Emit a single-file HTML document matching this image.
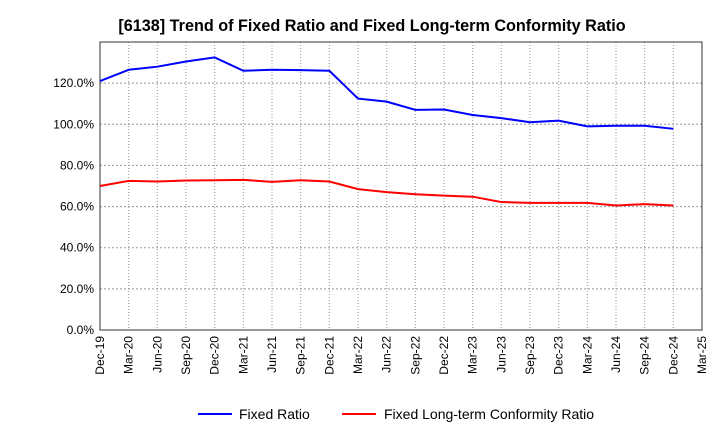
<!DOCTYPE html>
<html><head><meta charset="utf-8"><style>
body{margin:0;background:#fff;font-family:"Liberation Sans",sans-serif;}
</style></head><body>
<svg id="c" width="720" height="440" xmlns="http://www.w3.org/2000/svg">
<text x="372" y="31" text-anchor="middle" font-size="16.2" font-weight="bold">[6138]  Trend of Fixed Ratio and Fixed Long-term Conformity Ratio</text>
<g id="grid"></g><g id="axes"></g><g id="series"></g>
<g>
<line x1="198" y1="414" x2="232" y2="414" stroke="#0000ff" stroke-width="2"/>
<text x="239" y="419" font-size="14">Fixed Ratio</text>
<line x1="342" y1="414" x2="376" y2="414" stroke="#ff0000" stroke-width="2"/>
<text x="384" y="419" font-size="14">Fixed Long-term Conformity Ratio</text>
</g>
</svg>
<script>
const categories=["Dec-19","Mar-20","Jun-20","Sep-20","Dec-20","Mar-21","Jun-21","Sep-21","Dec-21","Mar-22","Jun-22","Sep-22","Dec-22","Mar-23","Jun-23","Sep-23","Dec-23","Mar-24","Jun-24","Sep-24","Dec-24","Mar-25"];
const fixedRatio=[121,126.5,128,130.5,132.5,126,126.5,126.3,126,112.5,111,107,107.2,104.5,103,101,101.8,99,99.3,99.3,97.8];
const conformityRatio=[70,72.5,72.2,72.7,72.8,73,72,72.8,72.2,68.5,67,66,65.3,64.8,62.2,61.8,61.8,61.8,60.5,61.2,60.5];
const yTicks=[0,20,40,60,80,100,120];
const L=100,R=702,T=42,B=330,YMAX=140;
const ns="http://www.w3.org/2000/svg";
const xs=i=>L+i*(R-L)/(categories.length-1);
const ys=v=>B-v/YMAX*(B-T);
function mk(t,a,p){const e=document.createElementNS(ns,t);for(const k in a)e.setAttribute(k,a[k]);p.appendChild(e);return e;}
const g=document.getElementById('grid'),ax=document.getElementById('axes'),s=document.getElementById('series');
categories.forEach((c,i)=>{
 const l=mk('line',{x1:xs(i),x2:xs(i),y1:T,y2:B,stroke:'#999','stroke-dasharray':'1,2'},g);
 
 
 const x=xs(i);
 const t=mk('text',{x:x+4,y:B+6,'font-size':12,'text-anchor':'end',transform:`rotate(-90 ${x+4} ${B+6})`},ax);
 t.textContent=c;
 
 
});
yTicks.forEach(v=>{
 if(v>0){const l=mk('line',{x1:L,x2:R,y1:ys(v),y2:ys(v),stroke:'#999','stroke-dasharray':'2,2'},g);
 
 }
 const t=mk('text',{x:L-6,y:ys(v)+4,'font-size':12,'text-anchor':'end'},ax);
 t.textContent=v.toFixed(1)+'%';
 
 
});
const fr=mk('rect',{x:L,y:T,width:R-L,height:B-T,fill:'none',stroke:'#333'},ax);


function line(d,col,name){
 const p=mk('polyline',{points:d.map((v,i)=>xs(i)+','+ys(v)).join(' '),fill:'none',stroke:col,'stroke-width':2},s);
 
 
}
line(fixedRatio,'#0000ff','fixed-ratio-line');
line(conformityRatio,'#ff0000','conformity-ratio-line');
</script>
</body></html>
